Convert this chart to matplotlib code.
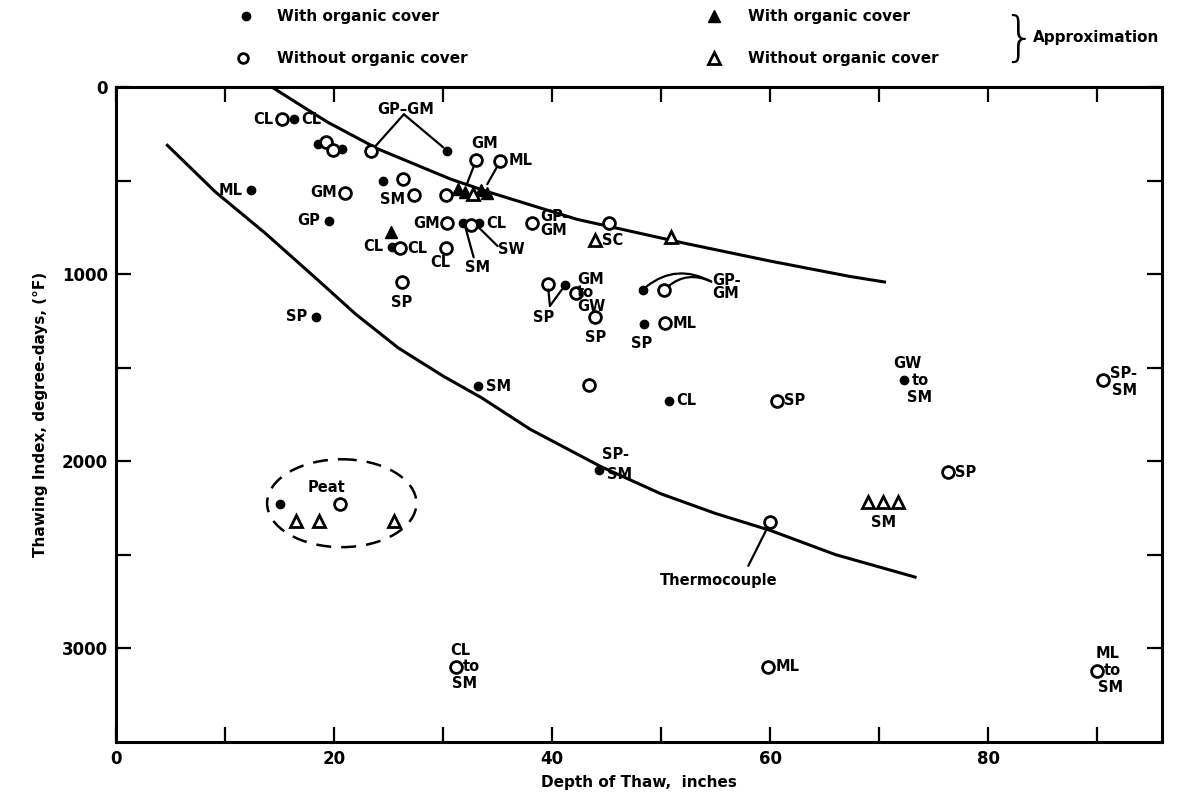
import matplotlib
matplotlib.use("Agg")
import matplotlib.pyplot as plt
from matplotlib.patches import Ellipse
from matplotlib.lines import Line2D

plt.rcParams["font.family"] = ["DejaVu Sans"]
plt.rcParams["font.weight"] = "bold"

# with organic cover (filled circles)
wc_x = [16.3, 18.5, 20.7, 30.4, 12.4, 19.5, 24.5, 25.3, 31.8, 32.3, 33.3, 18.3,
        41.2, 48.3, 48.4, 33.2, 50.7, 72.3, 44.3, 15.0]
wc_y = [171, 306, 330, 341, 551, 715, 501, 853, 729, 732, 729, 1227,
        1058, 1084, 1266, 1600, 1676, 1564, 2045, 2230]

# without organic cover (open circles)
wo_x = [15.2, 19.3, 19.9, 23.4, 21.0, 26.3, 27.3, 30.3, 30.4, 33.0, 35.2, 32.6,
        26.0, 30.3, 26.2, 38.2, 45.2, 39.6, 42.2, 43.9, 50.3, 50.4, 43.4, 60.6,
        90.5, 76.3, 60.0, 20.5, 31.2, 59.8, 90.0]
wo_y = [171, 295, 338, 341, 565, 489, 578, 578, 729, 387, 395, 738,
        862, 862, 1040, 729, 729, 1052, 1102, 1230, 1084, 1262, 1591, 1676,
        1564, 2060, 2327, 2230, 3100, 3100, 3123]

# approximation, with organic cover (filled triangles)
ac_x = [25.2, 31.4, 32.0, 33.5, 34.0]
ac_y = [773, 545, 560, 551, 565]

# approximation, without organic cover (open triangles)
ao_x = [32.7, 43.9, 50.9, 69.0, 70.4, 71.7, 16.5, 18.6, 25.5]
ao_y = [569, 818, 800, 2220, 2220, 2220, 2322, 2322, 2322]

# upper and lower curves
up_x = [14.3, 17.2, 19.4, 24.0, 30.7, 34.4, 42.3, 52.1, 60.0, 67.3, 70.5]
up_y = [0, 107, 187, 330, 492, 565, 707, 834, 930, 1012, 1042]
lo_x = [4.7, 9.1, 13.7, 18.5, 22.0, 25.9, 30.0, 33.5, 38.0, 44.5, 50.0,
        55.0, 60.0, 66.0, 73.3]
lo_y = [311, 560, 782, 1031, 1215, 1395, 1545, 1660, 1830, 2030, 2175,
        2280, 2370, 2500, 2620]

x_ticks = [0, 20, 40, 60, 80]
y_ticks = [0, 1000, 2000, 3000]

# labels: text, x, y, ha, va
labels = [
    ("CL", 14.4, 171, "right", "center"), ("CL", 17.0, 171, "left", "center"),
    ("GP\u2013GM", 26.6, 120, "center", "center"),
    ("ML", 11.6, 551, "right", "center"), ("GM", 20.3, 565, "right", "center"),
    ("GP", 18.7, 715, "right", "center"), ("SM", 26.5, 600, "right", "center"),
    ("SP", 17.5, 1227, "right", "center"),
    ("GM", 33.8, 300, "center", "center"), ("ML", 36.0, 390, "left", "center"),
    ("GM", 29.7, 729, "right", "center"), ("CL", 34.0, 729, "left", "center"),
    ("SW", 35.0, 870, "left", "center"), ("SM", 33.2, 965, "center", "center"),
    ("CL", 24.5, 853, "right", "center"), ("CL", 26.7, 862, "left", "center"),
    ("CL", 29.7, 940, "center", "center"), ("SP", 26.2, 1150, "center", "center"),
    ("GP-\nGM", 38.9, 729, "left", "center"), ("SC", 44.6, 818, "left", "center"),
    ("SP", 39.2, 1230, "center", "center"),
    ("GM\nto\nGW", 42.3, 1100, "left", "center"),
    ("SP", 44.0, 1340, "center", "center"),
    ("GP-\nGM", 54.7, 1070, "left", "center"),
    ("SP", 48.2, 1370, "center", "center"), ("ML", 51.1, 1262, "left", "center"),
    ("SM", 33.9, 1600, "left", "center"), ("CL", 51.4, 1676, "left", "center"),
    ("SP", 61.3, 1676, "left", "center"),
    ("GW", 72.6, 1480, "center", "center"), ("to", 73.0, 1570, "left", "center"),
    ("SM", 73.7, 1660, "center", "center"),
    ("SP-", 91.2, 1530, "left", "center"), ("SM", 91.4, 1620, "left", "center"),
    ("SP", 77.0, 2060, "left", "center"),
    ("SP-", 44.6, 1965, "left", "center"), ("SM", 45.0, 2070, "left", "center"),
    ("SM", 70.4, 2330, "center", "center"),
    ("Peat", 19.3, 2140, "center", "center"),
    ("Thermocouple", 55.3, 2640, "center", "center"),
    ("CL", 31.6, 3010, "center", "center"), ("to", 31.8, 3100, "left", "center"),
    ("SM", 32.0, 3190, "center", "center"),
    ("ML", 60.5, 3100, "left", "center"),
    ("ML", 91.0, 3030, "center", "center"), ("to", 90.6, 3120, "left", "center"),
    ("SM", 91.2, 3210, "center", "center"),
]

fig = plt.figure(figsize=(11.85, 8.07), dpi=100)
ax = fig.add_axes([0.098, 0.081, 0.883, 0.811])

ax.plot(up_x, up_y, color="black", lw=2.2)
ax.plot(lo_x, lo_y, color="black", lw=2.2)

ax.plot(wc_x, wc_y, "o", ms=6, color="black", ls="none")
ax.plot(wo_x, wo_y, "o", ms=8.5, mfc="white", mec="black", mew=2, ls="none")
ax.plot(ac_x, ac_y, "^", ms=9, color="black", ls="none")
ax.plot(ao_x, ao_y, "^", ms=9, mfc="white", mec="black", mew=2, ls="none")

for t, x, y, ha, va in labels:
    ax.text(x, y, t, ha=ha, va=va, fontsize=10.5, fontweight="bold",
            linespacing=0.85)

# leader lines
lead = dict(arrowstyle="-", color="black", lw=1.6, shrinkA=0, shrinkB=4)
ax.annotate("", xy=(23.4, 341), xytext=(26.4, 145), arrowprops=lead)
ax.annotate("", xy=(30.4, 341), xytext=(26.4, 145), arrowprops=lead)
ax.annotate("", xy=(32.0, 545), xytext=(33.0, 395), arrowprops=dict(lead, shrinkA=4))
ax.annotate("", xy=(33.8, 545), xytext=(35.2, 400), arrowprops=dict(lead, shrinkA=4))
ax.annotate("", xy=(32.0, 740), xytext=(32.8, 910), arrowprops=dict(lead, shrinkB=2))
ax.annotate("", xy=(33.0, 735), xytext=(35.0, 850), arrowprops=dict(lead, shrinkB=2))
ax.annotate("", xy=(39.6, 1052), xytext=(39.8, 1170), arrowprops=lead)
ax.annotate("", xy=(41.2, 1058), xytext=(39.8, 1170), arrowprops=lead)
ax.annotate("", xy=(48.3, 1084), xytext=(54.6, 1040),
            arrowprops=dict(lead, connectionstyle="arc3,rad=0.35"))
ax.annotate("", xy=(50.3, 1084), xytext=(54.6, 1040),
            arrowprops=dict(lead, connectionstyle="arc3,rad=0.35"))
ax.annotate("", xy=(60.0, 2327), xytext=(58.0, 2560), arrowprops=lead)

ax.add_patch(Ellipse((20.7, 2225), 13.7, 470, fill=False, ls=(0, (6, 4)),
                     lw=1.8, color="black"))

ax.set_xlim(0, 96)
ax.set_ylim(3500, 0)
ax.set_xticks(range(0, 100, 10))
ax.set_xticklabels([str(v) if v in x_ticks else "" for v in range(0, 100, 10)])
ax.set_yticks(range(0, 3500, 500))
ax.set_yticklabels([str(v) if v in y_ticks else "" for v in range(0, 3500, 500)])
ax.tick_params(direction="in", length=11, width=1.6, top=True, right=True,
               labelsize=12, pad=6)
for s in ax.spines.values():
    s.set_linewidth(2.2)

ax.set_xlabel("Depth of Thaw,  inches", fontsize=11, fontweight="bold", labelpad=5)
ax.set_ylabel("Thawing Index, degree-days, (\u00b0F)", fontsize=11,
              fontweight="bold", labelpad=10)

# legend drawn above the axes
fig.add_artist(Line2D([0.2076], [0.980], marker="o", ms=6, color="black"))
fig.add_artist(Line2D([0.2051], [0.928], marker="o", ms=7, mfc="white", mec="black", mew=2))
fig.add_artist(Line2D([0.6025], [0.980], marker="^", ms=9, color="black"))
fig.add_artist(Line2D([0.6025], [0.928], marker="^", ms=8, mfc="white", mec="black", mew=2))
fig.text(0.234, 0.980, "With organic cover", fontsize=11, va="center")
fig.text(0.234, 0.928, "Without organic cover", fontsize=11, va="center")
fig.text(0.631, 0.980, "With organic cover", fontsize=11, va="center")
fig.text(0.631, 0.928, "Without organic cover", fontsize=11, va="center")
fig.text(0.846, 0.950, "}", fontsize=38, va="center", fontweight="light")
fig.text(0.872, 0.954, "Approximation", fontsize=11, va="center")

fig.savefig("out.png", dpi=100)
